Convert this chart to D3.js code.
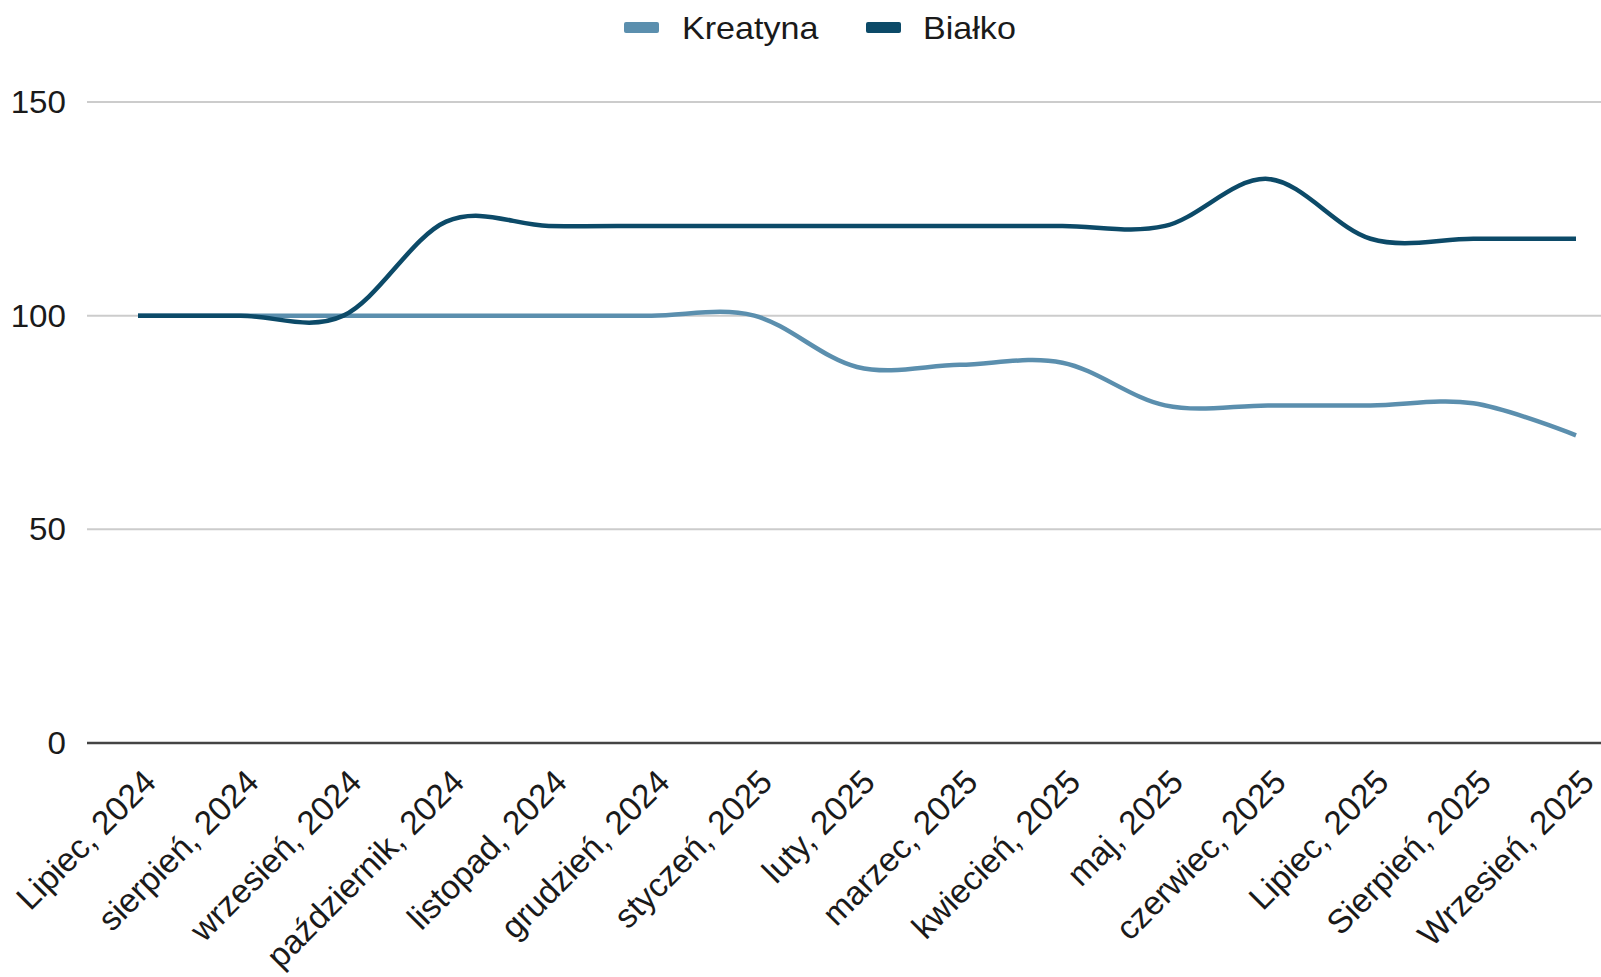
<!DOCTYPE html>
<html>
<head>
<meta charset="utf-8">
<script src="https://cdn.jsdelivr.net/npm/d3@7"></script>
<style>
  html, body { margin: 0; padding: 0; background: #ffffff; }
  svg { display: block; }
  text { font-family: "Liberation Sans", Arial, sans-serif; fill: #1a1a1a; }
</style>
</head>
<body>
<svg id="chart" width="1601" height="977"></svg>
<script>
const categories = ["Lipiec, 2024", "sierpień, 2024", "wrzesień, 2024", "październik, 2024", "listopad, 2024", "grudzień, 2024", "styczeń, 2025", "luty, 2025", "marzec, 2025", "kwiecień, 2025", "maj, 2025", "czerwiec, 2025", "Lipiec, 2025", "Sierpień, 2025", "Wrzesień, 2025"];
const kreatyna = [100, 100, 100, 100, 100, 100, 100, 88, 88.5, 89, 79, 79, 79, 79.5, 72];
const bialko = [100, 100, 100, 122, 121, 121, 121, 121, 121, 121, 121, 132, 118, 118, 118];
const seriesNames = ["Kreatyna", "Białko"];
const seriesColors = ["#5b8fae", "#0c4a68"];
const yTicks = [0, 50, 100, 150];

const svg = d3.select("#chart");
const plotLeft = 87, plotRight = 1601, y0 = 743, y150 = 102;
const stretch = 1.1;

const x = d3.scalePoint().domain(categories).range([138, 1576]);
const y = d3.scaleLinear().domain([0, 150]).range([y0, y150]);

// gridlines
svg.append("g").selectAll("line").data(yTicks.filter(d => d !== 0)).join("line")
  .attr("x1", plotLeft).attr("x2", plotRight)
  .attr("y1", d => y(d)).attr("y2", d => y(d))
  .attr("stroke", "#cccccc").attr("stroke-width", 2);

// y labels
svg.append("g").selectAll("text").data(yTicks).join("text")
  .attr("transform", d => `translate(66,${y(d)}) scale(1.07,1)`)
  .attr("dy", "0.36em")
  .attr("text-anchor", "end").attr("font-size", 31)
  .text(d => d);

// lines
const line = d3.line().x((d, i) => x(categories[i])).y(d => y(d)).curve(d3.curveCardinal.tension(0));
[kreatyna, bialko].forEach((s, i) => {
  svg.append("path").datum(s).attr("d", line)
    .attr("fill", "none").attr("stroke", seriesColors[i]).attr("stroke-width", 4.5)
    .attr("stroke-linejoin", "round");
});

// x axis baseline
svg.append("line").attr("x1", plotLeft).attr("x2", plotRight).attr("y1", y0).attr("y2", y0)
  .attr("stroke", "#444").attr("stroke-width", 2.5);

// x labels
svg.append("g").selectAll("text").data(categories).join("text")
  .attr("text-anchor", "end").attr("font-size", 33.5)
  .attr("transform", d => `translate(${x(d) + 20},${784}) rotate(-45)`)
  .text(d => d);

// legend
const legend = [{ name: seriesNames[0], color: seriesColors[0], sx: 624, tx: 682 },
                { name: seriesNames[1], color: seriesColors[1], sx: 866, tx: 923 }];
const lg = svg.append("g");
legend.forEach(l => {
  lg.append("rect").attr("x", l.sx).attr("y", 22).attr("width", 35).attr("height", 11)
    .attr("rx", 2).attr("fill", l.color);
  lg.append("text").attr("transform", `translate(${l.tx},27.5) scale(${stretch},1)`)
    .attr("dy", "0.36em").attr("font-size", 31).text(l.name);
});
</script>
</body>
</html>
